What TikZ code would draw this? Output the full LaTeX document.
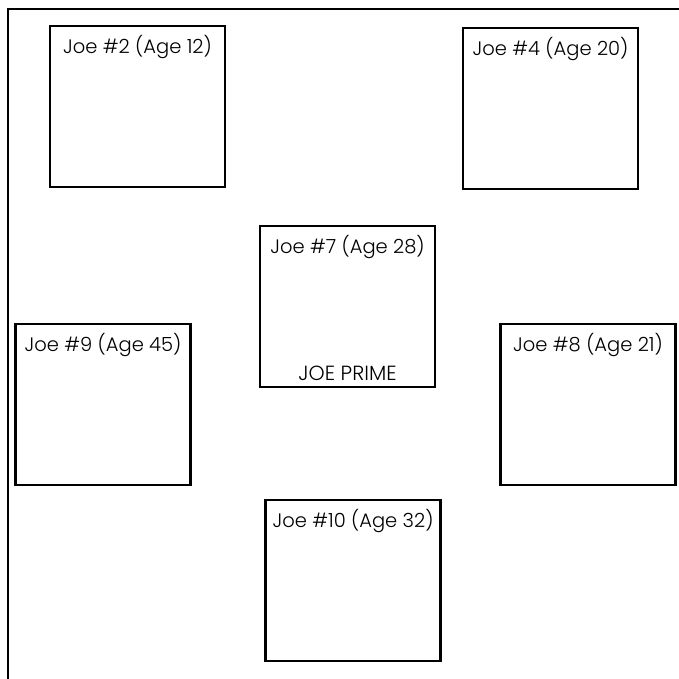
\documentclass[tikz,border=0pt]{standalone}
\usepackage{fontspec}
\setmainfont{Poppins}[UprightFont=* Light]
\begin{document}
\begin{tikzpicture}[x=1pt,y=-1pt,
  joebox/.style={draw=black, line width=2.2pt, minimum width=175pt, minimum height=161pt, inner sep=0pt},
  joetitle/.style={anchor=north, font=\fontsize{19.5}{22}\selectfont, inner sep=0pt, yshift=-10pt},
  joefoot/.style={anchor=south, font=\fontsize{20.5}{23}\selectfont, inner sep=0pt, yshift=7pt}]
\useasboundingbox (0,0) rectangle (679,679);
\draw[line width=2pt] (8,679) -- (8,9) -- (679,9);
\node[joebox] (j2) at (137.5,106.5) {};
\node[joetitle] (t2) at (j2.north) {Joe \#2 (Age 12)};
\node[joebox] (j4) at (550.5,108.5) {};
\node[joetitle] (t4) at (j4.north) {Joe \#4 (Age 20)};
\node[joebox] (j7) at (347.5,306.5) {};
\node[joetitle] (t7) at (j7.north) {Joe \#7 (Age 28)};
\node[joefoot] (p7) at (j7.south) {JOE PRIME};
\node[joebox] (j9) at (103,404.5) {};
\node[joetitle] (t9) at (j9.north) {Joe \#9 (Age 45)};
\node[joebox] (j8) at (588,404.5) {};
\node[joetitle] (t8) at (j8.north) {Joe \#8 (Age 21)};
\node[joebox] (j10) at (353,580.5) {};
\node[joetitle] (t10) at (j10.north) {Joe \#10 (Age 32)};
\end{tikzpicture}
\end{document}
